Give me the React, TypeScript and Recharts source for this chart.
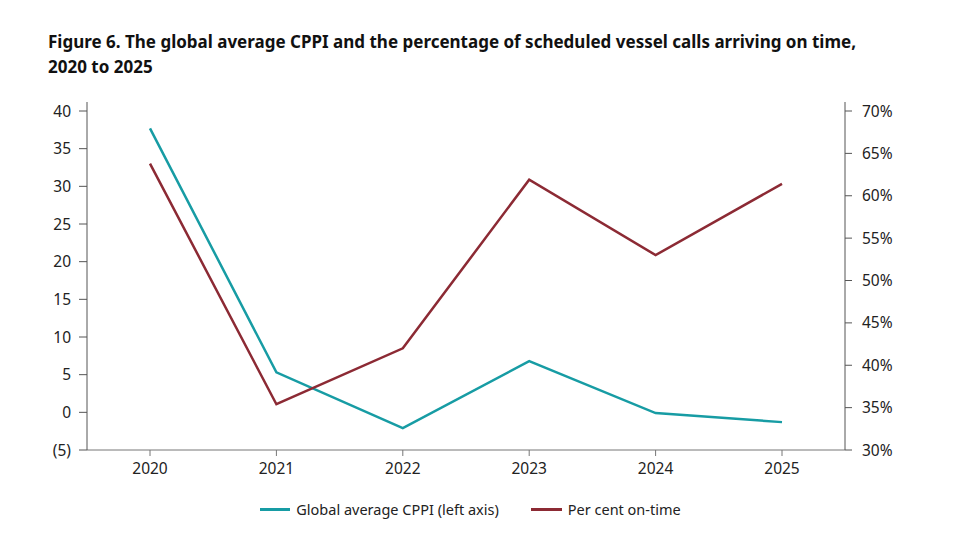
import React from 'react';
import { LineChart, Line, XAxis, YAxis, Legend } from 'recharts';

const years = ['2020', '2021', '2022', '2023', '2024', '2025'];
const cppi = [37.7, 5.3, -2.1, 6.8, -0.1, -1.3];
const onTime = [63.8, 35.4, 42.0, 61.9, 53.0, 61.4];
const leftTicks = [-5, 0, 5, 10, 15, 20, 25, 30, 35, 40];
const rightTicks = [30, 35, 40, 45, 50, 55, 60, 65, 70];

const data = years.map((y, i) => ({ year: y, cppi: cppi[i], onTime: onTime[i] }));

const TEAL = '#179ca4';
const RED = '#8c2a34';
const FONT = '"Noto Sans", Lato, sans-serif';

const fmtLeft = (v: number) => (v < 0 ? `(${Math.abs(v)})` : `${v}`);
const fmtRight = (v: number) => `${v}%`;

const LegendContent = () => (
  <div style={{ display: 'flex', justifyContent: 'center', alignItems: 'center', fontFamily: FONT, fontSize: 14.5, color: '#222', paddingRight: 20 }}>
    <span style={{ display: 'inline-block', width: 30, height: 3, background: TEAL, marginRight: 6 }} />
    <span style={{ marginRight: 32 }}>Global average CPPI (left axis)</span>
    <span style={{ display: 'inline-block', width: 31, height: 3, background: RED, marginRight: 6 }} />
    <span>Per cent on-time</span>
  </div>
);

export default function App() {
  return (
    <div style={{ position: 'absolute', left: 0, top: 0, width: 961, height: 538, background: '#fff', fontFamily: FONT }}>
      <div style={{ position: 'absolute', left: 48, top: 29, fontSize: 17, fontWeight: 700, color: '#111', lineHeight: '25px', whiteSpace: 'nowrap' }}>
        Figure 6. The global average CPPI and the percentage of scheduled vessel calls arriving on time,
        <br />
        2020 to 2025
      </div>
      <LineChart width={961} height={538} data={data} margin={{ top: 102, right: 20, bottom: 18, left: 20 }}>
        <XAxis
          dataKey="year"
          padding={{ left: 63, right: 63 }}
          height={30}
          tickSize={6}
          tickMargin={7}
          stroke="#777"
          tick={{ fill: '#222', fontSize: 15.5, fontFamily: FONT }}
        />
        <YAxis
          yAxisId="left"
          orientation="left"
          width={67}
          domain={[-5, 40]}
          ticks={leftTicks}
          tickFormatter={fmtLeft}
          padding={{ top: 9 }}
          tickSize={8}
          tickMargin={8}
          stroke="#555"
          tick={{ fill: '#222', fontSize: 15.5, fontFamily: FONT }}
        />
        <YAxis
          yAxisId="right"
          orientation="right"
          width={96}
          domain={[30, 70]}
          ticks={rightTicks}
          tickFormatter={fmtRight}
          padding={{ top: 9 }}
          tickSize={7}
          tickMargin={10}
          stroke="#555"
          tick={{ fill: '#222', fontSize: 15.5, fontFamily: FONT, textAnchor: 'start' }}
        />
        <Line yAxisId="left" dataKey="cppi" stroke={TEAL} strokeWidth={2.5} dot={false} isAnimationActive={false} />
        <Line yAxisId="right" dataKey="onTime" stroke={RED} strokeWidth={2.5} dot={false} isAnimationActive={false} />
        <Legend verticalAlign="bottom" height={40} content={LegendContent} wrapperStyle={{ top: 499 }} />
      </LineChart>
    </div>
  );
}
